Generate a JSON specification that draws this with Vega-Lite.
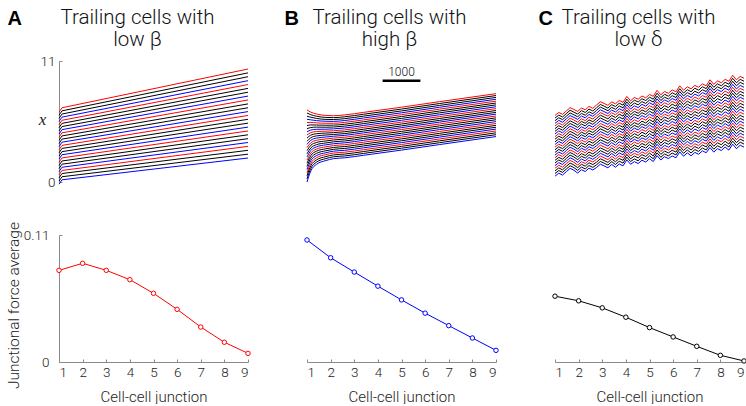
{
"$schema":"https://vega.github.io/schema/vega-lite/v6.json",
"padding":{"left":5,"top":7,"right":0,"bottom":0},
"background":"white",
"config":{"view":{"stroke":null},"font":"Roboto",
 "axis":{"domainColor":"#8a8a8a","tickColor":"#8a8a8a","labelColor":"#222","titleColor":"#222","labelFont":"Roboto","titleFont":"Roboto","labelFontWeight":300,"titleFontWeight":300,"grid":false,"labelFontSize":13.5,"titleFontSize":15},
 "title":{"font":"Roboto","fontWeight":300,"fontSize":20.5,"color":"#111","anchor":"middle","frame":"group","offset":-42,"lineHeight":22}
},
"datasets":{
"topA":[
{"t":0,"a":6.35,"b":6.07,"c":5.78,"d":5.50,"e":5.21,"f":4.93,"g":4.64,"h":4.36,"i":4.07,"j":3.79,"k":3.50,"l":3.22,"m":2.93,"n":2.65,"o":2.36,"p":2.08,"q":1.79,"r":1.51,"s":1.22,"u":0.94,"v":0.65,"w":0.37,"x":0.08,"y":-0.20},
{"t":80,"a":6.75,"b":6.47,"c":6.18,"d":5.90,"e":5.61,"f":5.33,"g":5.04,"h":4.76,"i":4.47,"j":4.19,"k":3.90,"l":3.62,"m":3.33,"n":3.05,"o":2.76,"p":2.48,"q":2.19,"r":1.91,"s":1.62,"u":1.34,"v":1.05,"w":0.77,"x":0.48,"y":0.20},
{"t":5000,"a":10.27,"b":9.92,"c":9.57,"d":9.21,"e":8.86,"f":8.51,"g":8.16,"h":7.81,"i":7.46,"j":7.10,"k":6.75,"l":6.40,"m":6.05,"n":5.70,"o":5.35,"p":4.99,"q":4.64,"r":4.29,"s":3.94,"u":3.59,"v":3.24,"w":2.88,"x":2.53,"y":2.18}
],
"topB":[
{"t":0,"a":6.55,"b":6.27,"c":5.98,"d":5.70,"e":5.41,"f":5.13,"g":4.84,"h":4.56,"i":4.27,"j":3.99,"k":3.70,"l":3.42,"m":3.13,"n":2.85,"o":2.56,"p":2.28,"q":1.99,"r":1.71,"s":1.42,"u":1.14,"v":0.85,"w":0.57,"x":0.28,"y":0.00},
{"t":100,"a":6.35,"b":6.12,"c":5.89,"d":5.65,"e":5.42,"f":5.19,"g":4.95,"h":4.72,"i":4.49,"j":4.26,"k":4.02,"l":3.79,"m":3.56,"n":3.33,"o":3.09,"p":2.86,"q":2.63,"r":2.40,"s":2.16,"u":1.93,"v":1.70,"w":1.47,"x":1.23,"y":1.00},
{"t":250,"a":6.18,"b":5.98,"c":5.78,"d":5.58,"e":5.38,"f":5.18,"g":4.99,"h":4.79,"i":4.59,"j":4.39,"k":4.19,"l":3.99,"m":3.79,"n":3.59,"o":3.39,"p":3.19,"q":2.99,"r":2.80,"s":2.60,"u":2.40,"v":2.20,"w":2.00,"x":1.80,"y":1.60},
{"t":500,"a":6.05,"b":5.87,"c":5.69,"d":5.52,"e":5.34,"f":5.16,"g":4.98,"h":4.80,"i":4.62,"j":4.45,"k":4.27,"l":4.09,"m":3.91,"n":3.73,"o":3.55,"p":3.38,"q":3.20,"r":3.02,"s":2.84,"u":2.66,"v":2.49,"w":2.31,"x":2.13,"y":1.95},
{"t":700,"a":6.02,"b":5.85,"c":5.68,"d":5.51,"e":5.34,"f":5.17,"g":5.00,"h":4.83,"i":4.66,"j":4.49,"k":4.32,"l":4.16,"m":3.99,"n":3.82,"o":3.65,"p":3.48,"q":3.31,"r":3.14,"s":2.97,"u":2.80,"v":2.63,"w":2.46,"x":2.29,"y":2.12},
{"t":1000,"a":6.10,"b":5.93,"c":5.76,"d":5.59,"e":5.42,"f":5.25,"g":5.08,"h":4.91,"i":4.74,"j":4.57,"k":4.40,"l":4.24,"m":4.07,"n":3.90,"o":3.73,"p":3.56,"q":3.39,"r":3.22,"s":3.05,"u":2.88,"v":2.71,"w":2.54,"x":2.37,"y":2.20},
{"t":1500,"a":6.33,"b":6.16,"c":5.99,"d":5.82,"e":5.65,"f":5.48,"g":5.31,"h":5.14,"i":4.97,"j":4.80,"k":4.63,"l":4.47,"m":4.30,"n":4.13,"o":3.96,"p":3.79,"q":3.62,"r":3.45,"s":3.28,"u":3.11,"v":2.94,"w":2.77,"x":2.60,"y":2.43},
{"t":2500,"a":6.80,"b":6.63,"c":6.46,"d":6.29,"e":6.12,"f":5.95,"g":5.78,"h":5.61,"i":5.44,"j":5.27,"k":5.10,"l":4.94,"m":4.77,"n":4.60,"o":4.43,"p":4.26,"q":4.09,"r":3.92,"s":3.75,"u":3.58,"v":3.41,"w":3.24,"x":3.07,"y":2.90},
{"t":3500,"a":7.30,"b":7.13,"c":6.96,"d":6.79,"e":6.62,"f":6.45,"g":6.28,"h":6.11,"i":5.94,"j":5.77,"k":5.60,"l":5.44,"m":5.27,"n":5.10,"o":4.93,"p":4.76,"q":4.59,"r":4.42,"s":4.25,"u":4.08,"v":3.91,"w":3.74,"x":3.57,"y":3.40},
{"t":5000,"a":8.03,"b":7.86,"c":7.69,"d":7.52,"e":7.35,"f":7.18,"g":7.01,"h":6.84,"i":6.67,"j":6.50,"k":6.33,"l":6.17,"m":6.00,"n":5.83,"o":5.66,"p":5.49,"q":5.32,"r":5.15,"s":4.98,"u":4.81,"v":4.64,"w":4.47,"x":4.30,"y":4.13}
],
"topC":[
{"t":0,"a":6.05,"b":5.81,"c":5.57,"d":5.33,"e":5.09,"f":4.85,"g":4.61,"h":4.37,"i":4.13,"j":3.89,"k":3.65,"l":3.41,"m":3.17,"n":2.93,"o":2.69,"p":2.45,"q":2.21,"r":1.97,"s":1.73,"u":1.49,"v":1.25,"w":1.01,"x":0.77,"y":0.53},
{"t":100,"a":6.32,"b":6.08,"c":5.84,"d":5.60,"e":5.36,"f":5.12,"g":4.88,"h":4.64,"i":4.40,"j":4.16,"k":3.92,"l":3.68,"m":3.44,"n":3.20,"o":2.96,"p":2.72,"q":2.48,"r":2.24,"s":2.00,"u":1.76,"v":1.52,"w":1.28,"x":1.04,"y":0.80},
{"t":200,"a":6.15,"b":5.91,"c":5.67,"d":5.43,"e":5.19,"f":4.95,"g":4.71,"h":4.47,"i":4.23,"j":3.99,"k":3.75,"l":3.51,"m":3.27,"n":3.03,"o":2.79,"p":2.55,"q":2.31,"r":2.07,"s":1.83,"u":1.59,"v":1.35,"w":1.11,"x":0.87,"y":0.63},
{"t":300,"a":6.46,"b":6.22,"c":5.98,"d":5.74,"e":5.50,"f":5.26,"g":5.02,"h":4.78,"i":4.54,"j":4.30,"k":4.06,"l":3.82,"m":3.58,"n":3.34,"o":3.10,"p":2.86,"q":2.62,"r":2.38,"s":2.14,"u":1.90,"v":1.66,"w":1.42,"x":1.18,"y":0.94},
{"t":400,"a":6.76,"b":6.52,"c":6.28,"d":6.04,"e":5.80,"f":5.56,"g":5.32,"h":5.08,"i":4.84,"j":4.60,"k":4.36,"l":4.12,"m":3.88,"n":3.64,"o":3.40,"p":3.16,"q":2.92,"r":2.68,"s":2.44,"u":2.20,"v":1.96,"w":1.72,"x":1.48,"y":1.24},
{"t":500,"a":6.59,"b":6.35,"c":6.11,"d":5.87,"e":5.63,"f":5.39,"g":5.15,"h":4.91,"i":4.67,"j":4.43,"k":4.19,"l":3.95,"m":3.71,"n":3.47,"o":3.23,"p":2.99,"q":2.75,"r":2.51,"s":2.27,"u":2.03,"v":1.79,"w":1.55,"x":1.31,"y":1.07},
{"t":600,"a":6.42,"b":6.18,"c":5.93,"d":5.69,"e":5.44,"f":5.20,"g":4.96,"h":4.71,"i":4.47,"j":4.22,"k":3.98,"l":3.74,"m":3.49,"n":3.25,"o":3.00,"p":2.76,"q":2.52,"r":2.27,"s":2.03,"u":1.78,"v":1.54,"w":1.30,"x":1.05,"y":0.81},
{"t":700,"a":6.73,"b":6.49,"c":6.24,"d":6.00,"e":5.75,"f":5.51,"g":5.27,"h":5.02,"i":4.78,"j":4.53,"k":4.29,"l":4.05,"m":3.80,"n":3.56,"o":3.31,"p":3.07,"q":2.83,"r":2.58,"s":2.34,"u":2.09,"v":1.85,"w":1.61,"x":1.36,"y":1.12},
{"t":800,"a":6.56,"b":6.32,"c":6.07,"d":5.83,"e":5.58,"f":5.34,"g":5.10,"h":4.85,"i":4.61,"j":4.36,"k":4.12,"l":3.88,"m":3.63,"n":3.39,"o":3.14,"p":2.90,"q":2.66,"r":2.41,"s":2.17,"u":1.92,"v":1.68,"w":1.44,"x":1.19,"y":0.95},
{"t":900,"a":6.87,"b":6.63,"c":6.38,"d":6.14,"e":5.89,"f":5.65,"g":5.41,"h":5.16,"i":4.92,"j":4.67,"k":4.43,"l":4.19,"m":3.94,"n":3.70,"o":3.45,"p":3.21,"q":2.97,"r":2.72,"s":2.48,"u":2.23,"v":1.99,"w":1.75,"x":1.50,"y":1.26},
{"t":1000,"a":6.70,"b":6.46,"c":6.21,"d":5.97,"e":5.72,"f":5.48,"g":5.24,"h":4.99,"i":4.75,"j":4.50,"k":4.26,"l":4.02,"m":3.77,"n":3.53,"o":3.28,"p":3.04,"q":2.80,"r":2.55,"s":2.31,"u":2.06,"v":1.82,"w":1.58,"x":1.33,"y":1.09},
{"t":1100,"a":7.00,"b":6.75,"c":6.51,"d":6.26,"e":6.01,"f":5.77,"g":5.52,"h":5.27,"i":5.02,"j":4.78,"k":4.53,"l":4.28,"m":4.04,"n":3.79,"o":3.54,"p":3.30,"q":3.05,"r":2.80,"s":2.55,"u":2.31,"v":2.06,"w":1.81,"x":1.57,"y":1.32},
{"t":1200,"a":7.30,"b":7.05,"c":6.81,"d":6.56,"e":6.31,"f":6.07,"g":5.82,"h":5.57,"i":5.32,"j":5.08,"k":4.83,"l":4.58,"m":4.34,"n":4.09,"o":3.84,"p":3.60,"q":3.35,"r":3.10,"s":2.85,"u":2.61,"v":2.36,"w":2.11,"x":1.87,"y":1.62},
{"t":1300,"a":7.14,"b":6.89,"c":6.65,"d":6.40,"e":6.15,"f":5.91,"g":5.66,"h":5.41,"i":5.16,"j":4.92,"k":4.67,"l":4.42,"m":4.18,"n":3.93,"o":3.68,"p":3.44,"q":3.19,"r":2.94,"s":2.69,"u":2.45,"v":2.20,"w":1.95,"x":1.71,"y":1.46},
{"t":1400,"a":6.97,"b":6.72,"c":6.48,"d":6.23,"e":5.98,"f":5.74,"g":5.49,"h":5.24,"i":4.99,"j":4.75,"k":4.50,"l":4.25,"m":4.01,"n":3.76,"o":3.51,"p":3.27,"q":3.02,"r":2.77,"s":2.52,"u":2.28,"v":2.03,"w":1.78,"x":1.54,"y":1.29},
{"t":1500,"a":7.28,"b":7.03,"c":6.79,"d":6.54,"e":6.29,"f":6.05,"g":5.80,"h":5.55,"i":5.30,"j":5.06,"k":4.81,"l":4.56,"m":4.32,"n":4.07,"o":3.82,"p":3.58,"q":3.33,"r":3.08,"s":2.83,"u":2.59,"v":2.34,"w":2.09,"x":1.85,"y":1.60},
{"t":1600,"a":7.11,"b":6.86,"c":6.61,"d":6.36,"e":6.11,"f":5.86,"g":5.60,"h":5.35,"i":5.10,"j":4.85,"k":4.60,"l":4.35,"m":4.10,"n":3.85,"o":3.60,"p":3.35,"q":3.09,"r":2.84,"s":2.59,"u":2.34,"v":2.09,"w":1.84,"x":1.59,"y":1.34},
{"t":1700,"a":7.41,"b":7.16,"c":6.91,"d":6.66,"e":6.41,"f":6.16,"g":5.90,"h":5.65,"i":5.40,"j":5.15,"k":4.90,"l":4.65,"m":4.40,"n":4.15,"o":3.90,"p":3.65,"q":3.39,"r":3.14,"s":2.89,"u":2.64,"v":2.39,"w":2.14,"x":1.89,"y":1.64},
{"t":1800,"a":7.24,"b":6.99,"c":6.74,"d":6.49,"e":6.24,"f":5.99,"g":5.73,"h":5.48,"i":5.23,"j":4.98,"k":4.73,"l":4.48,"m":4.23,"n":3.98,"o":3.73,"p":3.48,"q":3.22,"r":2.97,"s":2.72,"u":2.47,"v":2.22,"w":1.97,"x":1.72,"y":1.47},
{"t":1900,"a":7.78,"b":7.53,"c":7.28,"d":7.03,"e":6.78,"f":6.53,"g":6.27,"h":6.02,"i":5.77,"j":5.52,"k":5.27,"l":5.02,"m":4.77,"n":4.52,"o":4.27,"p":4.02,"q":3.76,"r":3.51,"s":3.26,"u":3.01,"v":2.76,"w":2.51,"x":2.26,"y":2.01},
{"t":2000,"a":7.38,"b":7.13,"c":6.88,"d":6.63,"e":6.38,"f":6.13,"g":5.87,"h":5.62,"i":5.37,"j":5.12,"k":4.87,"l":4.62,"m":4.37,"n":4.12,"o":3.87,"p":3.62,"q":3.36,"r":3.11,"s":2.86,"u":2.61,"v":2.36,"w":2.11,"x":1.86,"y":1.61},
{"t":2100,"a":7.69,"b":7.44,"c":7.18,"d":6.93,"e":6.67,"f":6.42,"g":6.17,"h":5.91,"i":5.66,"j":5.40,"k":5.15,"l":4.90,"m":4.64,"n":4.39,"o":4.13,"p":3.88,"q":3.63,"r":3.37,"s":3.12,"u":2.86,"v":2.61,"w":2.36,"x":2.10,"y":1.85},
{"t":2200,"a":7.52,"b":7.27,"c":7.01,"d":6.76,"e":6.50,"f":6.25,"g":6.00,"h":5.74,"i":5.49,"j":5.23,"k":4.98,"l":4.73,"m":4.47,"n":4.22,"o":3.96,"p":3.71,"q":3.46,"r":3.20,"s":2.95,"u":2.69,"v":2.44,"w":2.19,"x":1.93,"y":1.68},
{"t":2300,"a":7.82,"b":7.57,"c":7.31,"d":7.06,"e":6.80,"f":6.55,"g":6.30,"h":6.04,"i":5.79,"j":5.53,"k":5.28,"l":5.03,"m":4.77,"n":4.52,"o":4.26,"p":4.01,"q":3.76,"r":3.50,"s":3.25,"u":2.99,"v":2.74,"w":2.49,"x":2.23,"y":1.98},
{"t":2400,"a":7.65,"b":7.40,"c":7.14,"d":6.89,"e":6.63,"f":6.38,"g":6.13,"h":5.87,"i":5.62,"j":5.36,"k":5.11,"l":4.86,"m":4.60,"n":4.35,"o":4.09,"p":3.84,"q":3.59,"r":3.33,"s":3.08,"u":2.82,"v":2.57,"w":2.32,"x":2.06,"y":1.81},
{"t":2500,"a":7.96,"b":7.71,"c":7.45,"d":7.20,"e":6.94,"f":6.69,"g":6.44,"h":6.18,"i":5.93,"j":5.67,"k":5.42,"l":5.17,"m":4.91,"n":4.66,"o":4.40,"p":4.15,"q":3.90,"r":3.64,"s":3.39,"u":3.13,"v":2.88,"w":2.63,"x":2.37,"y":2.12},
{"t":2600,"a":7.79,"b":7.53,"c":7.27,"d":7.02,"e":6.76,"f":6.50,"g":6.24,"h":5.98,"i":5.73,"j":5.47,"k":5.21,"l":4.95,"m":4.69,"n":4.44,"o":4.18,"p":3.92,"q":3.66,"r":3.40,"s":3.15,"u":2.89,"v":2.63,"w":2.37,"x":2.11,"y":1.86},
{"t":2700,"a":8.33,"b":8.07,"c":7.81,"d":7.56,"e":7.30,"f":7.04,"g":6.78,"h":6.52,"i":6.27,"j":6.01,"k":5.75,"l":5.49,"m":5.23,"n":4.98,"o":4.72,"p":4.46,"q":4.20,"r":3.94,"s":3.69,"u":3.43,"v":3.17,"w":2.91,"x":2.65,"y":2.40},
{"t":2800,"a":7.93,"b":7.67,"c":7.41,"d":7.16,"e":6.90,"f":6.64,"g":6.38,"h":6.12,"i":5.87,"j":5.61,"k":5.35,"l":5.09,"m":4.83,"n":4.58,"o":4.32,"p":4.06,"q":3.80,"r":3.54,"s":3.29,"u":3.03,"v":2.77,"w":2.51,"x":2.25,"y":2.00},
{"t":2900,"a":8.23,"b":7.97,"c":7.71,"d":7.46,"e":7.20,"f":6.94,"g":6.68,"h":6.42,"i":6.17,"j":5.91,"k":5.65,"l":5.39,"m":5.13,"n":4.88,"o":4.62,"p":4.36,"q":4.10,"r":3.84,"s":3.59,"u":3.33,"v":3.07,"w":2.81,"x":2.55,"y":2.30},
{"t":3000,"a":8.06,"b":7.80,"c":7.54,"d":7.29,"e":7.03,"f":6.77,"g":6.51,"h":6.25,"i":6.00,"j":5.74,"k":5.48,"l":5.22,"m":4.96,"n":4.71,"o":4.45,"p":4.19,"q":3.93,"r":3.67,"s":3.42,"u":3.16,"v":2.90,"w":2.64,"x":2.38,"y":2.13},
{"t":3100,"a":8.37,"b":8.11,"c":7.85,"d":7.59,"e":7.33,"f":7.07,"g":6.80,"h":6.54,"i":6.28,"j":6.02,"k":5.76,"l":5.50,"m":5.24,"n":4.98,"o":4.72,"p":4.46,"q":4.19,"r":3.93,"s":3.67,"u":3.41,"v":3.15,"w":2.89,"x":2.63,"y":2.37},
{"t":3200,"a":8.20,"b":7.94,"c":7.68,"d":7.42,"e":7.16,"f":6.90,"g":6.63,"h":6.37,"i":6.11,"j":5.85,"k":5.59,"l":5.33,"m":5.07,"n":4.81,"o":4.55,"p":4.29,"q":4.02,"r":3.76,"s":3.50,"u":3.24,"v":2.98,"w":2.72,"x":2.46,"y":2.20},
{"t":3300,"a":8.74,"b":8.48,"c":8.22,"d":7.96,"e":7.70,"f":7.44,"g":7.17,"h":6.91,"i":6.65,"j":6.39,"k":6.13,"l":5.87,"m":5.61,"n":5.35,"o":5.09,"p":4.83,"q":4.56,"r":4.30,"s":4.04,"u":3.78,"v":3.52,"w":3.26,"x":3.00,"y":2.74},
{"t":3400,"a":8.34,"b":8.08,"c":7.82,"d":7.56,"e":7.30,"f":7.04,"g":6.77,"h":6.51,"i":6.25,"j":5.99,"k":5.73,"l":5.47,"m":5.21,"n":4.95,"o":4.69,"p":4.43,"q":4.16,"r":3.90,"s":3.64,"u":3.38,"v":3.12,"w":2.86,"x":2.60,"y":2.34},
{"t":3500,"a":8.65,"b":8.39,"c":8.13,"d":7.87,"e":7.61,"f":7.35,"g":7.08,"h":6.82,"i":6.56,"j":6.30,"k":6.04,"l":5.78,"m":5.52,"n":5.26,"o":5.00,"p":4.74,"q":4.47,"r":4.21,"s":3.95,"u":3.69,"v":3.43,"w":3.17,"x":2.91,"y":2.65},
{"t":3600,"a":8.47,"b":8.21,"c":7.94,"d":7.68,"e":7.41,"f":7.15,"g":6.88,"h":6.62,"i":6.35,"j":6.09,"k":5.82,"l":5.56,"m":5.29,"n":5.03,"o":4.76,"p":4.50,"q":4.23,"r":3.97,"s":3.70,"u":3.44,"v":3.17,"w":2.91,"x":2.64,"y":2.38},
{"t":3700,"a":8.78,"b":8.52,"c":8.25,"d":7.99,"e":7.72,"f":7.46,"g":7.19,"h":6.93,"i":6.66,"j":6.40,"k":6.13,"l":5.87,"m":5.60,"n":5.34,"o":5.07,"p":4.81,"q":4.54,"r":4.28,"s":4.01,"u":3.75,"v":3.48,"w":3.22,"x":2.95,"y":2.69},
{"t":3800,"a":8.61,"b":8.35,"c":8.08,"d":7.82,"e":7.55,"f":7.29,"g":7.02,"h":6.76,"i":6.49,"j":6.23,"k":5.96,"l":5.70,"m":5.43,"n":5.17,"o":4.90,"p":4.64,"q":4.37,"r":4.11,"s":3.84,"u":3.58,"v":3.31,"w":3.05,"x":2.78,"y":2.52},
{"t":3900,"a":8.92,"b":8.66,"c":8.39,"d":8.13,"e":7.86,"f":7.60,"g":7.33,"h":7.07,"i":6.80,"j":6.54,"k":6.27,"l":6.01,"m":5.74,"n":5.48,"o":5.21,"p":4.95,"q":4.68,"r":4.42,"s":4.15,"u":3.89,"v":3.62,"w":3.36,"x":3.09,"y":2.83},
{"t":4000,"a":8.75,"b":8.49,"c":8.22,"d":7.96,"e":7.69,"f":7.43,"g":7.16,"h":6.90,"i":6.63,"j":6.37,"k":6.10,"l":5.84,"m":5.57,"n":5.31,"o":5.04,"p":4.78,"q":4.51,"r":4.25,"s":3.98,"u":3.72,"v":3.45,"w":3.19,"x":2.92,"y":2.66},
{"t":4100,"a":9.29,"b":9.02,"c":8.75,"d":8.49,"e":8.22,"f":7.95,"g":7.68,"h":7.41,"i":7.15,"j":6.88,"k":6.61,"l":6.34,"m":6.07,"n":5.81,"o":5.54,"p":5.27,"q":5.00,"r":4.73,"s":4.47,"u":4.20,"v":3.93,"w":3.66,"x":3.39,"y":3.13},
{"t":4200,"a":8.88,"b":8.61,"c":8.34,"d":8.08,"e":7.81,"f":7.54,"g":7.27,"h":7.00,"i":6.74,"j":6.47,"k":6.20,"l":5.93,"m":5.66,"n":5.40,"o":5.13,"p":4.86,"q":4.59,"r":4.32,"s":4.06,"u":3.79,"v":3.52,"w":3.25,"x":2.98,"y":2.72},
{"t":4300,"a":9.19,"b":8.92,"c":8.65,"d":8.39,"e":8.12,"f":7.85,"g":7.58,"h":7.31,"i":7.05,"j":6.78,"k":6.51,"l":6.24,"m":5.97,"n":5.71,"o":5.44,"p":5.17,"q":4.90,"r":4.63,"s":4.37,"u":4.10,"v":3.83,"w":3.56,"x":3.29,"y":3.03},
{"t":4400,"a":9.02,"b":8.75,"c":8.48,"d":8.22,"e":7.95,"f":7.68,"g":7.41,"h":7.14,"i":6.88,"j":6.61,"k":6.34,"l":6.07,"m":5.80,"n":5.54,"o":5.27,"p":5.00,"q":4.73,"r":4.46,"s":4.20,"u":3.93,"v":3.66,"w":3.39,"x":3.12,"y":2.86},
{"t":4500,"a":9.33,"b":9.06,"c":8.79,"d":8.53,"e":8.26,"f":7.99,"g":7.72,"h":7.45,"i":7.19,"j":6.92,"k":6.65,"l":6.38,"m":6.11,"n":5.85,"o":5.58,"p":5.31,"q":5.04,"r":4.77,"s":4.51,"u":4.24,"v":3.97,"w":3.70,"x":3.43,"y":3.17},
{"t":4600,"a":9.16,"b":8.89,"c":8.62,"d":8.34,"e":8.07,"f":7.80,"g":7.53,"h":7.26,"i":6.98,"j":6.71,"k":6.44,"l":6.17,"m":5.90,"n":5.62,"o":5.35,"p":5.08,"q":4.81,"r":4.54,"s":4.26,"u":3.99,"v":3.72,"w":3.45,"x":3.18,"y":2.90},
{"t":4700,"a":9.70,"b":9.43,"c":9.16,"d":8.88,"e":8.61,"f":8.34,"g":8.07,"h":7.80,"i":7.52,"j":7.25,"k":6.98,"l":6.71,"m":6.44,"n":6.16,"o":5.89,"p":5.62,"q":5.35,"r":5.08,"s":4.80,"u":4.53,"v":4.26,"w":3.99,"x":3.72,"y":3.44},
{"t":4800,"a":9.29,"b":9.02,"c":8.75,"d":8.47,"e":8.20,"f":7.93,"g":7.66,"h":7.39,"i":7.11,"j":6.84,"k":6.57,"l":6.30,"m":6.03,"n":5.75,"o":5.48,"p":5.21,"q":4.94,"r":4.67,"s":4.39,"u":4.12,"v":3.85,"w":3.58,"x":3.31,"y":3.03},
{"t":4900,"a":9.60,"b":9.33,"c":9.06,"d":8.78,"e":8.51,"f":8.24,"g":7.97,"h":7.70,"i":7.42,"j":7.15,"k":6.88,"l":6.61,"m":6.34,"n":6.06,"o":5.79,"p":5.52,"q":5.25,"r":4.98,"s":4.70,"u":4.43,"v":4.16,"w":3.89,"x":3.62,"y":3.34},
{"t":5000,"a":9.43,"b":9.16,"c":8.89,"d":8.61,"e":8.34,"f":8.07,"g":7.80,"h":7.53,"i":7.25,"j":6.98,"k":6.71,"l":6.44,"m":6.17,"n":5.89,"o":5.62,"p":5.35,"q":5.08,"r":4.81,"s":4.53,"u":4.26,"v":3.99,"w":3.72,"x":3.45,"y":3.17}
],
"botA":[{"j":1,"f":0.0794},{"j":2,"f":0.0855},{"j":3,"f":0.0794},{"j":4,"f":0.0713},{"j":5,"f":0.0595},{"j":6,"f":0.0456},{"j":7,"f":0.0303},{"j":8,"f":0.0171},{"j":9,"f":0.0075}],
"botB":[{"j":1,"f":0.1057},{"j":2,"f":0.0903},{"j":3,"f":0.0779},{"j":4,"f":0.0657},{"j":5,"f":0.0538},{"j":6,"f":0.0423},{"j":7,"f":0.0315},{"j":8,"f":0.0208},{"j":9,"f":0.0101}],
"botC":[{"j":1,"f":0.0570},{"j":2,"f":0.0530},{"j":3,"f":0.0469},{"j":4,"f":0.0388},{"j":5,"f":0.0298},{"j":6,"f":0.0217},{"j":7,"f":0.0136},{"j":8,"f":0.0058},{"j":9,"f":0.0009}],
"bar":[{"t0":2000,"t1":3000,"tm":2500,"y":9.2,"label":"1000"}]
},
"columns":3,
"bounds":"flush",
"spacing":{"row":53,"column":59},
"concat":[
{
 "width":189,"height":121,
 "title":{"text":["Trailing cells with","low β"],"dx":-16},
 "data":{"name":"topA"},
 "transform":[{"fold":["a","b","c","d","e","f","g","h","i","j","k","l","m","n","o","p","q","r","s","u","v","w","x","y"],"as":["key","val"]}],
 "mark":{"type":"line","strokeWidth":1},
 "encoding":{
  "x":{"field":"t","type":"quantitative","scale":{"domain":[0,5000]},"axis":{"orient":"top","domain":false,"ticks":false,"labels":false,"title":"A","titleFont":"Liberation Sans","titleFontWeight":"bold","titleFontSize":20,"titleColor":"black","titleX":-52,"titleY":-37,"titleAlign":"left","titleBaseline":"alphabetic","titleAngle":0}},
  "y":{"field":"val","type":"quantitative","scale":{"domain":[0,11]},"axis":{"values":[0,11],"tickSize":-3,"labelPadding":7,"title":"x","titleFont":"Liberation Serif","titleFontStyle":"italic","titleFontWeight":"normal","titleFontSize":17,"titleAngle":0,"titleX":-17,"titleY":58,"titleAlign":"center","titleBaseline":"middle"}},
  "color":{"field":"key","type":"nominal","scale":{"domain":["a","b","c","d","e","f","g","h","i","j","k","l","m","n","o","p","q","r","s","u","v","w","x","y"],"range":["#ff0000","#000000","#000000","#0000ff","#ff0000","#000000","#000000","#0000ff","#ff0000","#000000","#000000","#0000ff","#ff0000","#000000","#000000","#0000ff","#ff0000","#000000","#000000","#0000ff","#ff0000","#000000","#000000","#0000ff"]},"legend":null}
 }
},
{
 "width":189,"height":121,
 "title":{"text":["Trailing cells with","high β"],"dx":-12},
 "layer":[
 {
  "data":{"name":"topB"},
  "transform":[{"fold":["a","b","c","d","e","f","g","h","i","j","k","l","m","n","o","p","q","r","s","u","v","w","x","y"],"as":["key","val"]}],
  "mark":{"type":"line","strokeWidth":1,"interpolate":"monotone"},
  "encoding":{
   "x":{"field":"t","type":"quantitative","scale":{"domain":[0,5000]},"axis":{"orient":"top","domain":false,"ticks":false,"labels":false,"title":"B","titleFont":"Liberation Sans","titleFontWeight":"bold","titleFontSize":20,"titleColor":"black","titleX":-23,"titleY":-37,"titleAlign":"left","titleBaseline":"alphabetic","titleAngle":0}},
   "y":{"field":"val","type":"quantitative","scale":{"domain":[0,11]},"axis":null},
   "color":{"field":"key","type":"nominal","scale":{"domain":["a","b","c","d","e","f","g","h","i","j","k","l","m","n","o","p","q","r","s","u","v","w","x","y"],"range":["#ff0000","#000000","#000000","#0000ff","#ff0000","#000000","#000000","#0000ff","#ff0000","#000000","#000000","#0000ff","#ff0000","#000000","#000000","#0000ff","#ff0000","#000000","#000000","#0000ff","#ff0000","#000000","#000000","#0000ff"]},"legend":null}
  }
 },
 {
  "data":{"name":"bar"},
  "mark":{"type":"rule","strokeWidth":2.5,"color":"black"},
  "encoding":{"x":{"field":"t0","type":"quantitative"},"x2":{"field":"t1"},"y":{"field":"y","type":"quantitative"}}
 },
 {
  "data":{"name":"bar"},
  "mark":{"type":"text","dy":-9,"fontSize":12,"font":"Roboto","fontWeight":300,"color":"#111"},
  "encoding":{"x":{"field":"tm","type":"quantitative"},"y":{"field":"y","type":"quantitative"},"text":{"field":"label"}}
 }
 ]
},
{
 "width":189,"height":121,
 "title":{"text":["Trailing cells with","low δ"],"dx":-11},
 "data":{"name":"topC"},
 "transform":[{"fold":["a","b","c","d","e","f","g","h","i","j","k","l","m","n","o","p","q","r","s","u","v","w","x","y"],"as":["key","val"]}],
 "mark":{"type":"line","strokeWidth":1},
 "encoding":{
  "x":{"field":"t","type":"quantitative","scale":{"domain":[0,5000]},"axis":{"orient":"top","domain":false,"ticks":false,"labels":false,"title":"C","titleFont":"Liberation Sans","titleFontWeight":"bold","titleFontSize":20,"titleColor":"black","titleX":-17,"titleY":-37,"titleAlign":"left","titleBaseline":"alphabetic","titleAngle":0}},
  "y":{"field":"val","type":"quantitative","scale":{"domain":[0,11]},"axis":null},
  "color":{"field":"key","type":"nominal","scale":{"domain":["a","b","c","d","e","f","g","h","i","j","k","l","m","n","o","p","q","r","s","u","v","w","x","y"],"range":["#ff0000","#000000","#000000","#0000ff","#ff0000","#000000","#000000","#0000ff","#ff0000","#000000","#000000","#0000ff","#ff0000","#000000","#000000","#0000ff","#ff0000","#000000","#000000","#0000ff","#ff0000","#000000","#000000","#0000ff"]},"legend":null}
 }
},
{
 "width":189,"height":127,
 "data":{"name":"botA"},
 "mark":{"type":"line","color":"#ff0000","strokeWidth":1,"point":{"filled":false,"fill":"white","color":"#ff0000","size":20,"strokeWidth":1}},
 "encoding":{
  "x":{"field":"j","type":"quantitative","scale":{"domain":[1,9]},"axis":{"values":[1,2,3,4,5,6,7,8,9],"tickSize":-3,"labelPadding":6,"title":"Cell-cell junction","titleY":39,"titleBaseline":"alphabetic"}},
  "y":{"field":"f","type":"quantitative","scale":{"domain":[0,0.11]},"axis":{"values":[0,0.11],"format":".2~f","tickSize":-3,"labelPadding":13,"title":"Junctional force average","titleFontSize":15.5,"titleX":-41,"titleY":70,"titleAngle":-90,"titleAlign":"center","titleBaseline":"alphabetic"}}
 }
},
{
 "width":189,"height":127,
 "data":{"name":"botB"},
 "mark":{"type":"line","color":"#0000ff","strokeWidth":1,"point":{"filled":false,"fill":"white","color":"#0000ff","size":20,"strokeWidth":1}},
 "encoding":{
  "x":{"field":"j","type":"quantitative","scale":{"domain":[1,9]},"axis":{"values":[1,2,3,4,5,6,7,8,9],"tickSize":-3,"labelPadding":6,"title":"Cell-cell junction","titleY":39,"titleBaseline":"alphabetic"}},
  "y":{"field":"f","type":"quantitative","scale":{"domain":[0,0.11]},"axis":null}
 }
},
{
 "width":189,"height":127,
 "data":{"name":"botC"},
 "mark":{"type":"line","color":"#000000","strokeWidth":1,"point":{"filled":false,"fill":"white","color":"#000000","size":20,"strokeWidth":1}},
 "encoding":{
  "x":{"field":"j","type":"quantitative","scale":{"domain":[1,9]},"axis":{"values":[1,2,3,4,5,6,7,8,9],"tickSize":-3,"labelPadding":6,"title":"Cell-cell junction","titleY":39,"titleBaseline":"alphabetic"}},
  "y":{"field":"f","type":"quantitative","scale":{"domain":[0,0.11]},"axis":null}
 }
}
]
}
